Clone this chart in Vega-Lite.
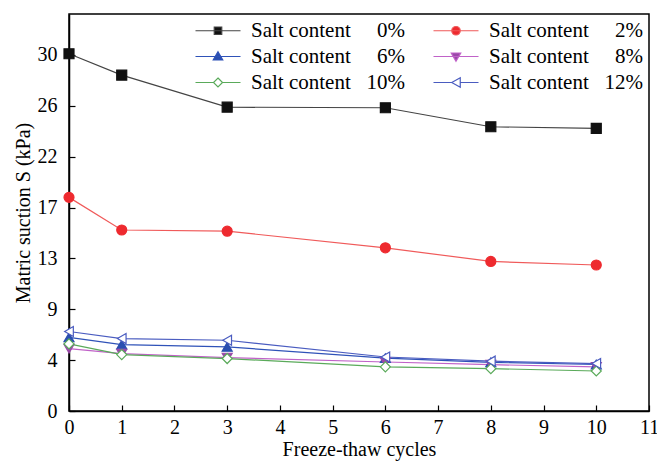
{
  "$schema": "https://vega.github.io/schema/vega-lite/v6.json",
  "width": 580,
  "height": 397,
  "autosize": {"type": "none"},
  "padding": {"left": 69, "top": 14, "right": 8, "bottom": 50},
  "background": "white",
  "config": {
    "view": {"stroke": "black", "strokeWidth": 1.5},
    "font": "Liberation Serif",
    "style": {
      "guide-label": {"font": "Liberation Serif", "fill": "black"},
      "guide-title": {"font": "Liberation Serif", "fill": "black"}
    },
    "legend": {"labelFont": "Liberation Serif", "labelFontSize": 21, "labelColor": "black"},
    "axis": {
      "labelFont": "Liberation Serif",
      "titleFont": "Liberation Serif",
      "labelFontSize": 20,
      "titleFontSize": 20,
      "titleFontWeight": "normal",
      "labelColor": "black",
      "titleColor": "black",
      "domainColor": "black",
      "domainWidth": 1.5,
      "tickColor": "black",
      "tickWidth": 1.2,
      "tickSize": -6,
      "grid": false
    }
  },
  "data": {
    "values": [
      {"cycles": 0, "S": 30.1, "salt": "0%"},
      {"cycles": 1, "S": 28.3, "salt": "0%"},
      {"cycles": 3, "S": 25.6, "salt": "0%"},
      {"cycles": 6, "S": 25.55, "salt": "0%"},
      {"cycles": 8, "S": 23.95, "salt": "0%"},
      {"cycles": 10, "S": 23.82, "salt": "0%"},
      {"cycles": 0, "S": 18.0, "salt": "2%"},
      {"cycles": 1, "S": 15.25, "salt": "2%"},
      {"cycles": 3, "S": 15.15, "salt": "2%"},
      {"cycles": 6, "S": 13.75, "salt": "2%"},
      {"cycles": 8, "S": 12.6, "salt": "2%"},
      {"cycles": 10, "S": 12.3, "salt": "2%"},
      {"cycles": 0, "S": 6.2, "salt": "6%"},
      {"cycles": 1, "S": 5.6, "salt": "6%"},
      {"cycles": 3, "S": 5.4, "salt": "6%"},
      {"cycles": 6, "S": 4.45, "salt": "6%"},
      {"cycles": 8, "S": 4.1, "salt": "6%"},
      {"cycles": 10, "S": 3.92, "salt": "6%"},
      {"cycles": 0, "S": 5.25, "salt": "8%"},
      {"cycles": 1, "S": 4.84, "salt": "8%"},
      {"cycles": 3, "S": 4.5, "salt": "8%"},
      {"cycles": 6, "S": 4.13, "salt": "8%"},
      {"cycles": 8, "S": 3.91, "salt": "8%"},
      {"cycles": 10, "S": 3.71, "salt": "8%"},
      {"cycles": 0, "S": 5.65, "salt": "10%"},
      {"cycles": 1, "S": 4.75, "salt": "10%"},
      {"cycles": 3, "S": 4.42, "salt": "10%"},
      {"cycles": 6, "S": 3.72, "salt": "10%"},
      {"cycles": 8, "S": 3.57, "salt": "10%"},
      {"cycles": 10, "S": 3.37, "salt": "10%"},
      {"cycles": 0, "S": 6.7, "salt": "12%"},
      {"cycles": 1, "S": 6.1, "salt": "12%"},
      {"cycles": 3, "S": 5.96, "salt": "12%"},
      {"cycles": 6, "S": 4.55, "salt": "12%"},
      {"cycles": 8, "S": 4.2, "salt": "12%"},
      {"cycles": 10, "S": 4.0, "salt": "12%"}
    ]
  },
  "encoding": {
    "x": {
      "field": "cycles",
      "type": "quantitative",
      "scale": {"domain": [0, 11], "nice": false, "zero": false},
      "axis": {
        "title": "Freeze-thaw cycles",
        "values": [0, 1, 2, 3, 4, 5, 6, 7, 8, 9, 10, 11],
        "format": "d",
        "labelPadding": 12,
        "titlePadding": 2,
        "labelFlush": false,
        "labelOverlap": false
      }
    },
    "y": {
      "field": "S",
      "type": "quantitative",
      "scale": {"domain": [0, 33.45], "nice": false},
      "axis": {
        "title": "Matric suction S (kPa)",
        "values": [0, 4.2857, 8.5714, 12.8571, 17.1429, 21.4286, 25.7143, 30],
        "labelExpr": "datum.value < 1 ? '0' : datum.value < 5 ? '4' : datum.value < 9 ? '9' : datum.value < 13 ? '13' : datum.value < 18 ? '17' : datum.value < 22 ? '22' : datum.value < 26 ? '26' : '30'",
        "labelPadding": 18,
        "titlePadding": 4,
        "labelFlush": false,
        "labelOverlap": false
      }
    }
  },
  "layer": [
    {
      "mark": {"type": "line", "strokeWidth": 1.2},
      "encoding": {
        "stroke": {
          "field": "salt",
          "type": "nominal",
          "scale": {
            "domain": ["0%", "6%", "10%", "2%", "8%", "12%"],
            "range": ["#444444", "#2f52b8", "#5aaa5a", "#f05a5a", "#c062c8", "#4a5cc0"]
          },
          "legend": {
            "title": null,
            "orient": "top-right",
            "offset": 2,
            "padding": 4,
            "columns": 2,
            "columnPadding": 23,
            "rowPadding": 4,
            "symbolSize": 100,
            "symbolStrokeWidth": 1.2,
            "labelFont": "Liberation Serif",
            "labelFontSize": 21,
            "labelColor": "black",
            "labelOffset": 40,
            "labelLimit": 400,
            "labelExpr": "'Salt content\u00a0\u00a0\u00a0' + (length(datum.value) < 3 ? '\u00a0\u00a0' : '') + datum.value",
            "encode": {
              "labels": {
                "update": {
                  "font": {"value": "Liberation Serif"},
                  "fontSize": {"value": 21},
                  "fill": {"value": "black"}
                }
              },
              "symbols": {
                "update": {
                  "shape": {"signal": "datum.value === '0%' ? 'M-1,0H8M2.75,-0.75H4.25V0.75H2.75Z' : datum.value === '2%' ? 'M-1,0H8M2.65,0A0.85,0.85 0 1,0 4.35,0A0.85,0.85 0 1,0 2.65,0Z' : datum.value === '6%' ? 'M-1,0H8M3.5,-0.95L4.45,0.7H2.55Z' : datum.value === '8%' ? 'M-1,0H8M3.5,0.95L4.45,-0.7H2.55Z' : datum.value === '10%' ? 'M-1,0H2.6M4.4,0H8M3.5,-0.9L4.4,0L3.5,0.9L2.6,0Z' : 'M-1,0H2.65M4.35,0H8M2.65,0L4.35,-0.95V0.95Z'"},
                  "fill": {"signal": "datum.value === '0%' ? '#111111' : datum.value === '2%' ? '#ee2a2f' : datum.value === '6%' ? '#2a4fb0' : datum.value === '8%' ? '#9a4aa8' : 'white'"},
                  "strokeWidth": {"value": 1.2},
                  "opacity": {"value": 1}
                }
              }
            }
          }
        }
      }
    },
    {
      "mark": {"type": "point", "filled": true, "opacity": 1, "strokeWidth": 1.2, "size": 100},
      "encoding": {
        "shape": {
          "field": "salt",
          "type": "nominal",
          "scale": {
            "domain": ["0%", "2%", "6%", "8%", "10%", "12%"],
            "range": ["square", "circle", "triangle-up", "triangle-down", "diamond", "triangle-left"]
          },
          "legend": null
        },
        "fill": {
          "field": "salt",
          "type": "nominal",
          "scale": {
            "domain": ["0%", "2%", "6%", "8%", "10%", "12%"],
            "range": ["#111111", "#ee2a2f", "#2a4fb0", "#9a4aa8", "white", "white"]
          },
          "legend": null
        },
        "stroke": {
          "field": "salt",
          "type": "nominal",
          "scale": {
            "domain": ["0%", "2%", "6%", "8%", "10%", "12%"],
            "range": ["#111111", "#ee2a2f", "#2a4fb0", "#9a4aa8", "#5aaa5a", "#4a5cc0"]
          },
          "legend": null
        }
      }
    }
  ],
  "resolve": {"scale": {"stroke": "independent"}, "legend": {"stroke": "independent"}}
}
